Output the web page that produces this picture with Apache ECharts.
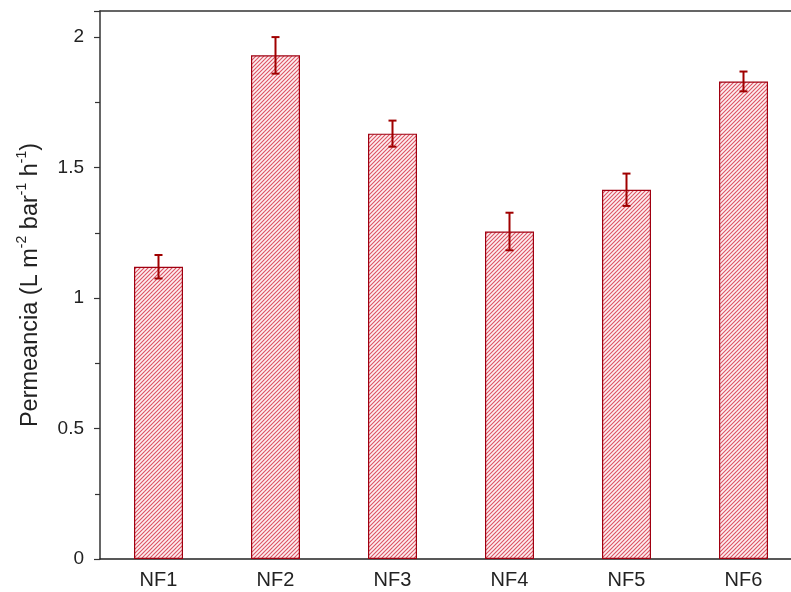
<!DOCTYPE html>
<html><head><meta charset="utf-8">
<script src="https://cdn.jsdelivr.net/npm/echarts@6/dist/echarts.min.js"></script>
<style>html,body{margin:0;padding:0;background:#fff;overflow:hidden}#c{width:813px;height:592px}</style>
</head><body><div id="c"></div>
<script>
const categories = ['NF1','NF2','NF3','NF4','NF5','NF6'];
const values = [1.12, 1.93, 1.63, 1.255, 1.415, 1.83];
const errors = [0.045, 0.07, 0.05, 0.072, 0.062, 0.038];
const yTicks = [0, 0.5, 1, 1.5, 2];

function hatch(){
  const c = document.createElement('canvas');
  c.width = 8; c.height = 8;
  const g = c.getContext('2d');
  g.fillStyle = '#fdf0f1'; g.fillRect(0,0,8,8);
  g.strokeStyle = '#dc5060'; g.lineWidth = 1.1;
  for (let k = -8; k <= 16; k += 4) {
    g.beginPath(); g.moveTo(k - 1, 9); g.lineTo(k + 9, -1); g.stroke();
  }
  return c;
}
const chart = echarts.init(document.getElementById('c'));
const font = 'Liberation Sans, Arial, sans-serif';
chart.setOption({
  animation: false,
  grid: {left: 100, top: 11, right: 11, bottom: 33, show: false},
  xAxis: [{
    type: 'category', data: categories,
    axisLine: {lineStyle: {color: '#222', width: 1.5}},
    axisTick: {show: false},
    axisLabel: {fontFamily: font, fontSize: 20, color: '#222', margin: 11}
  }, {
    type: 'category', data: categories, position: 'top',
    axisLine: {show: true, lineStyle: {color: '#333', width: 1.5}},
    axisTick: {show: false}, axisLabel: {show: false}
  }],
  yAxis: {
    type: 'value', min: 0, max: 2.1, interval: 0.5,
    splitLine: {show: false},
    axisLine: {show: true, lineStyle: {color: '#333', width: 1.5}},
    axisTick: {show: true, length: 6, lineStyle: {color: '#333', width: 1.2}},
    minorTick: {show: true, splitNumber: 2, length: 5, lineStyle: {color: '#333', width: 1.2}},
    axisLabel: {fontFamily: font, fontSize: 19, color: '#222', margin: 16,
      formatter: v => yTicks.indexOf(v) >= 0 ? String(v) : ''},
    name: '{a|Permeancia (L m}{s|-2}{a| bar}{s|-1}{a| h}{s|-1}{a|)}',
    nameLocation: 'middle', nameRotate: 90, nameGap: 57,
    nameTextStyle: {
      rich: {
        a: {fontFamily: font, fontSize: 23.5, color: '#222', lineHeight: 28, verticalAlign: 'bottom'},
        s: {fontFamily: font, fontSize: 14, color: '#222', lineHeight: 28, verticalAlign: 'top', padding: [0,0,12,0]}
      }
    }
  },
  series: [{
    type: 'bar', data: values, barWidth: 49,
    itemStyle: {color: {image: hatch(), repeat: 'repeat'}, borderColor: '#a00010', borderWidth: 1.2}
  }, {
    type: 'custom',
    data: values.map((v, i) => [i, v - errors[i], v + errors[i]]),
    renderItem: function(params, api){
      const lo = api.coord([api.value(0), api.value(1)]);
      const hi = api.coord([api.value(0), api.value(2)]);
      const x = lo[0], w = 4;
      const st = {stroke: '#a00000', lineWidth: 2};
      return {type: 'group', children: [
        {type: 'line', shape: {x1: x, y1: lo[1], x2: x, y2: hi[1]}, style: st},
        {type: 'line', shape: {x1: x - w, y1: lo[1], x2: x + w, y2: lo[1]}, style: st},
        {type: 'line', shape: {x1: x - w, y1: hi[1], x2: x + w, y2: hi[1]}, style: st}
      ]};
    },
    z: 10
  }]
});
</script></body></html>
